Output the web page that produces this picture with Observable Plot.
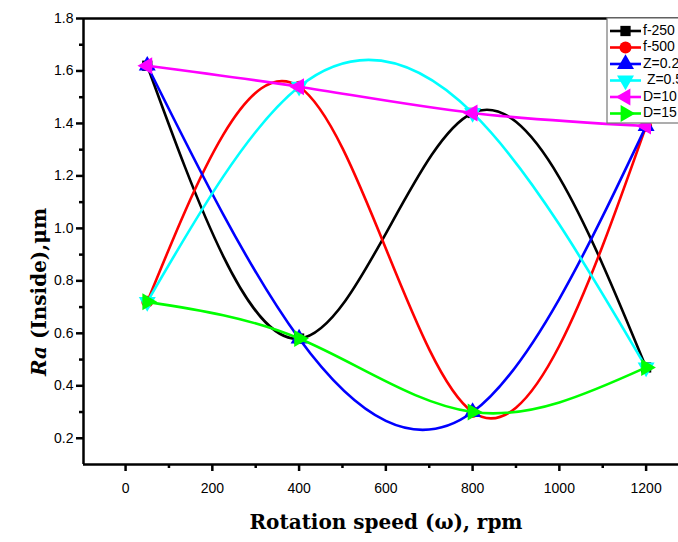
<!DOCTYPE html>
<html><head><meta charset="utf-8">
<script src="https://cdn.jsdelivr.net/npm/d3@7"></script>
<script src="https://cdn.jsdelivr.net/npm/@observablehq/plot@0.6"></script>
<style>
body{margin:0;background:#fff;overflow:hidden}
#c{width:678px;height:542px;overflow:hidden;position:relative}
#c svg{max-width:none !important}
</style>
</head><body><div id="c"></div>
<script>
const speeds = [50, 400, 800, 1200];
const seriesNames = ["f-250", "f-500", "Z=0.2", " Z=0.5", "D=10", "D=15"];
const f250 = [1.62, 0.58, 1.44, 0.47];
const f500 = [0.72, 1.54, 0.30, 1.39];
const z02 = [1.62, 0.58, 0.30, 1.39];
const z05 = [0.72, 1.54, 1.44, 0.47];
const d10 = [1.62, 1.54, 1.44, 1.39];
const d15 = [0.72, 0.58, 0.30, 0.47];
const seriesValues = [f250, f500, z02, z05, d10, d15];
const seriesColors = ["#000000", "#ff0000", "#0000ff", "#00ffff", "#ff00ff", "#00ff00"];
const seriesSymbols = ["square", "circle", "triangle", "triangle", "triangle", "triangle"];
const seriesRotate = [0, 0, 0, 180, -90, 90];
const xTicks = [0, 200, 400, 600, 800, 1000, 1200];
const xMinor = [100, 300, 500, 700, 900, 1100];
const yTicks = [0.2, 0.4, 0.6, 0.8, 1.0, 1.2, 1.4, 1.6, 1.8];
const yMinor = [0.3, 0.5, 0.7, 0.9, 1.1, 1.3, 1.5, 1.7];

// Natural cubic spline as a function of x (like Origin's spline connector), as a d3 curve factory
function NaturalX(context) { this._context = context; }
NaturalX.prototype = {
  areaStart() {}, areaEnd() {},
  lineStart() { this._xs = []; this._ys = []; },
  point(x, y) { this._xs.push(+x); this._ys.push(+y); },
  lineEnd() {
    const X = this._xs, Y = this._ys, n = X.length, c = this._context;
    if (!n) return;
    c.moveTo(X[0], Y[0]);
    if (n === 1) return;
    if (n === 2) { c.lineTo(X[1], Y[1]); return; }
    const h = [];
    for (let i = 0; i < n - 1; i++) h.push(X[i + 1] - X[i]);
    // tridiagonal for second derivatives M[1..n-2], M[0]=M[n-1]=0
    const m = n - 2, a = [], b = [], cc = [], d = [];
    for (let i = 1; i <= m; i++) {
      a.push(h[i - 1]); b.push(2 * (h[i - 1] + h[i])); cc.push(h[i]);
      d.push(6 * ((Y[i + 1] - Y[i]) / h[i] - (Y[i] - Y[i - 1]) / h[i - 1]));
    }
    for (let i = 1; i < m; i++) {
      const w = a[i] / b[i - 1];
      b[i] -= w * cc[i - 1]; d[i] -= w * d[i - 1];
    }
    const Mi = new Array(m);
    Mi[m - 1] = d[m - 1] / b[m - 1];
    for (let i = m - 2; i >= 0; i--) Mi[i] = (d[i] - cc[i] * Mi[i + 1]) / b[i];
    const M = [0, ...Mi, 0];
    const slope = [];
    for (let i = 0; i < n - 1; i++) slope.push((Y[i + 1] - Y[i]) / h[i] - h[i] * (2 * M[i] + M[i + 1]) / 6);
    slope.push((Y[n - 1] - Y[n - 2]) / h[n - 2] + h[n - 2] * (M[n - 2] + 2 * M[n - 1]) / 6);
    for (let i = 0; i < n - 1; i++) {
      const t = h[i] / 3;
      c.bezierCurveTo(X[i] + t, Y[i] + slope[i] * t, X[i + 1] - t, Y[i + 1] - slope[i + 1] * t, X[i + 1], Y[i + 1]);
    }
  }
};
const curveNaturalX = context => new NaturalX(context);

const rows = seriesNames.flatMap((s, i) =>
  speeds.map((x, j) => ({series: s, x, y: seriesValues[i][j], k: i})));

const symR = s => s === "square" ? 5.8 : (s === "circle" ? 6 : 6.3);

const seriesMarks = seriesNames.flatMap((s, i) => {
  const d = rows.filter(r => r.k === i);
  return [
    Plot.line(d, {x: "x", y: "y", stroke: seriesColors[i], strokeWidth: 2.6, curve: curveNaturalX}),
    Plot.dot(d, {x: "x", y: "y", symbol: seriesSymbols[i], fill: seriesColors[i], stroke: "none",
                 r: symR(seriesSymbols[i]), rotate: seriesRotate[i]})
  ];
});

const titleFont = "DejaVu Serif, serif";

const chart = Plot.plot({
  width: 702,
  height: 542,
  marginLeft: 83,
  marginRight: 0,
  marginTop: 18,
  marginBottom: 78,
  style: {fontFamily: "Liberation Sans, Arial, sans-serif", fontSize: "14px", color: "#000", background: "#fff", maxWidth: "none"},
  x: {domain: [-97, 1330], axis: null},
  y: {domain: [0.1, 1.8], axis: null},
  marks: [
    ...seriesMarks,
    Plot.ruleY([1.8], {stroke: "#000", strokeWidth: 2.5}),
    Plot.ruleY([0.1], {stroke: "#000", strokeWidth: 2.5}),
    Plot.ruleX([-97], {stroke: "#000", strokeWidth: 2.5}),
    Plot.axisX(xTicks, {tickSize: 7, tickPadding: 12, strokeWidth: 2.5, fontSize: 14, label: null, tickFormat: d => String(d)}),
    Plot.axisX(xMinor, {tickSize: 4, strokeWidth: 2.5, text: null, label: null}),
    Plot.axisY(yTicks, {tickSize: 7, tickPadding: 3, strokeWidth: 2.5, fontSize: 14, label: null, tickFormat: d3.format(".1f")}),
    Plot.axisY(yMinor, {tickSize: 4, strokeWidth: 2.5, text: null, label: null}),
    Plot.text(["Rotation speed (ω), rpm"], {frameAnchor: "bottom", dy: 58, dx: -7, lineAnchor: "middle",
      fontFamily: titleFont, fontWeight: "bold", fontSize: 20, fill: "#000"})
  ]
});

document.getElementById("c").appendChild(chart);
const svg = d3.select(chart);

// Y axis title with italic "Ra"
const yl = svg.append("text")
  .attr("transform", "translate(40,292) rotate(-90)")
  .attr("text-anchor", "middle")
  .attr("dominant-baseline", "middle")
  .attr("font-family", titleFont)
  .attr("font-weight", "bold")
  .attr("font-size", 20)
  .attr("fill", "#000");
yl.append("tspan").attr("font-style", "italic").text("Ra");
yl.append("tspan").text(" (Inside),μm");

// Legend
const lg = svg.append("g");
lg.append("rect").attr("x", 607).attr("y", 18).attr("width", 110).attr("height", 105)
  .attr("fill", "#fff").attr("stroke", "#777").attr("stroke-width", 1.2);
const symMap = {square: d3.symbolSquare, circle: d3.symbolCircle, triangle: d3.symbolTriangle};
seriesNames.forEach((s, i) => {
  const y = 31 + i * 16.5;
  lg.append("line").attr("x1", 610).attr("x2", 641).attr("y1", y).attr("y2", y)
    .attr("stroke", seriesColors[i]).attr("stroke-width", 2.6);
  const r = symR(seriesSymbols[i]);
  lg.append("path").attr("d", d3.symbol(symMap[seriesSymbols[i]], Math.PI * r * r)())
    .attr("transform", `translate(625.5,${y}) rotate(${seriesRotate[i]})`)
    .attr("fill", seriesColors[i]);
  lg.append("text").attr("x", 643).attr("y", y).attr("dominant-baseline", "middle")
    .attr("text-anchor", "start").attr("xml:space", "preserve")
    .style("white-space", "pre")
    .attr("font-family", "Liberation Sans, Arial, sans-serif").attr("font-size", 14)
    .attr("fill", "#000").text(s);
});
</script>
</body></html>
